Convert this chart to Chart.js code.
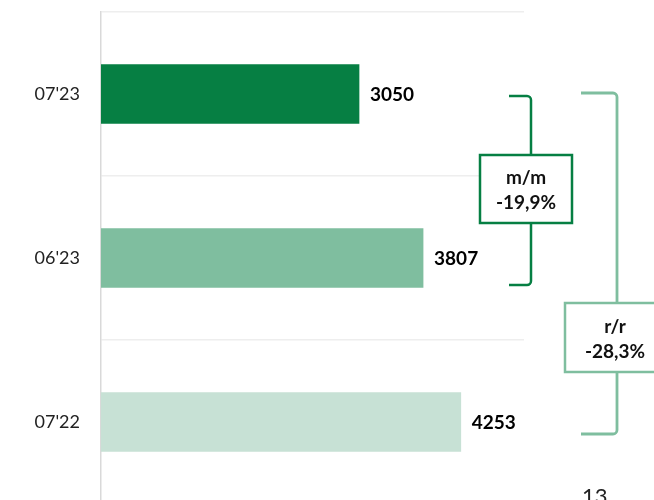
<!DOCTYPE html>
<html>
<head>
<meta charset="utf-8">
<script src="https://cdn.jsdelivr.net/npm/chart.js@4"></script>
<style>
    html, body { margin: 0; padding: 0; background: #fff; overflow: hidden; }
    #wrap { position: relative; width: 654px; height: 500px; overflow: hidden; }
    #page { position: absolute; left: 582px; top: 482px; font: 22px Lato, sans-serif; color: #222; }
</style>
</head>
<body>
<div id="wrap">
    <canvas id="chart" width="654" height="520"></canvas>
    <div id="page">13</div>
</div>
<script>
const categories = ["07'23", "06'23", "07'22"];
const values = [3050, 3807, 4253];
const barColors = ['#067F43', '#7FBE9F', '#C7E1D5'];
const xMax = 5000;

const momLabel = ['m/m', '-19,9%'];
const yoyLabel = ['r/r', '-28,3%'];
const momColor = '#067F43';
const yoyColor = '#7FBE9F';

// value labels at the end of each bar
const valueLabels = {
    id: 'valueLabels',
    afterDatasetsDraw(chart) {
        const ctx = chart.ctx;
        const meta = chart.getDatasetMeta(0);
        ctx.save();
        ctx.font = 'bold 19px Lato, sans-serif';
        ctx.fillStyle = '#000';
        ctx.textAlign = 'left';
        ctx.textBaseline = 'middle';
        meta.data.forEach((bar, i) => {
            ctx.fillText(values[i], bar.x + 11, bar.y + 1);
        });
        ctx.restore();
    }
};

function bracket(ctx, xTip, xLine, yTop, yBottom, r) {
    ctx.beginPath();
    ctx.moveTo(xTip, yTop);
    ctx.arcTo(xLine, yTop, xLine, yTop + r, r);
    ctx.lineTo(xLine, yBottom - r);
    ctx.arcTo(xLine, yBottom, xTip, yBottom, r);
    ctx.lineTo(xTip, yBottom);
    ctx.stroke();
}

function labelBox(ctx, x, y, w, h, color, lines, textX) {
    ctx.fillStyle = '#fff';
    ctx.fillRect(x, y, w, h);
    ctx.strokeStyle = color;
    ctx.lineWidth = 2.5;
    ctx.strokeRect(x, y, w, h);
    ctx.fillStyle = '#111';
    ctx.font = 'bold 19px Lato, sans-serif';
    ctx.textAlign = 'center';
    ctx.textBaseline = 'middle';
    ctx.fillText(lines[0], textX, y + h / 2 - 11);
    ctx.fillText(lines[1], textX, y + h / 2 + 14);
}

// change brackets (m/m and r/r)
const changeBrackets = {
    id: 'changeBrackets',
    afterDraw(chart) {
        const ctx = chart.ctx;
        const y = chart.scales.y;
        const right = chart.chartArea.right;
        const y0 = y.getPixelForValue(0);
        const y1 = y.getPixelForValue(1);
        const y2 = y.getPixelForValue(2);
        ctx.save();
        ctx.lineWidth = 2.8;

        // r/r
        ctx.strokeStyle = yoyColor;
        bracket(ctx, right + 57, right + 93, y0 - 1, y2 + 12, 4);
        labelBox(ctx, right + 41, y1 + 45, 92, 69, yoyColor, yoyLabel, right + 91);

        // m/m
        ctx.strokeStyle = momColor;
        bracket(ctx, right - 15, right + 7, y0 + 2, y1 + 27, 4);
        labelBox(ctx, right - 44, y0 + 61, 92, 68, momColor, momLabel, right + 2);

        ctx.restore();
    }
};

new Chart(document.getElementById('chart'), {
    type: 'bar',
    data: {
        labels: categories,
        datasets: [{
            data: values,
            backgroundColor: barColors,
            barThickness: 59
        }]
    },
    options: {
        indexAxis: 'y',
        responsive: false,
        animation: false,
        layout: {
            padding: { top: 12, right: 130, bottom: 16, left: 0 }
        },
        scales: {
            x: {
                display: false,
                min: 0,
                max: xMax
            },
            y: {
                afterFit: function (scale) {
                    scale.width = 101;
                    scale.paddingTop = 0;
                    scale.paddingBottom = 0;
                },
                grid: {
                    color: '#EEEEEE',
                    lineWidth: 1.5,
                    drawTicks: false
                },
                border: {
                    display: true,
                    color: '#D9D9D9',
                    width: 1.5
                },
                ticks: {
                    color: '#222',
                    padding: 21,
                    font: { family: 'Lato', size: 18 }
                }
            }
        },
        plugins: {
            legend: { display: false },
            tooltip: { enabled: false }
        }
    },
    plugins: [valueLabels, changeBrackets]
});
</script>
</body>
</html>
